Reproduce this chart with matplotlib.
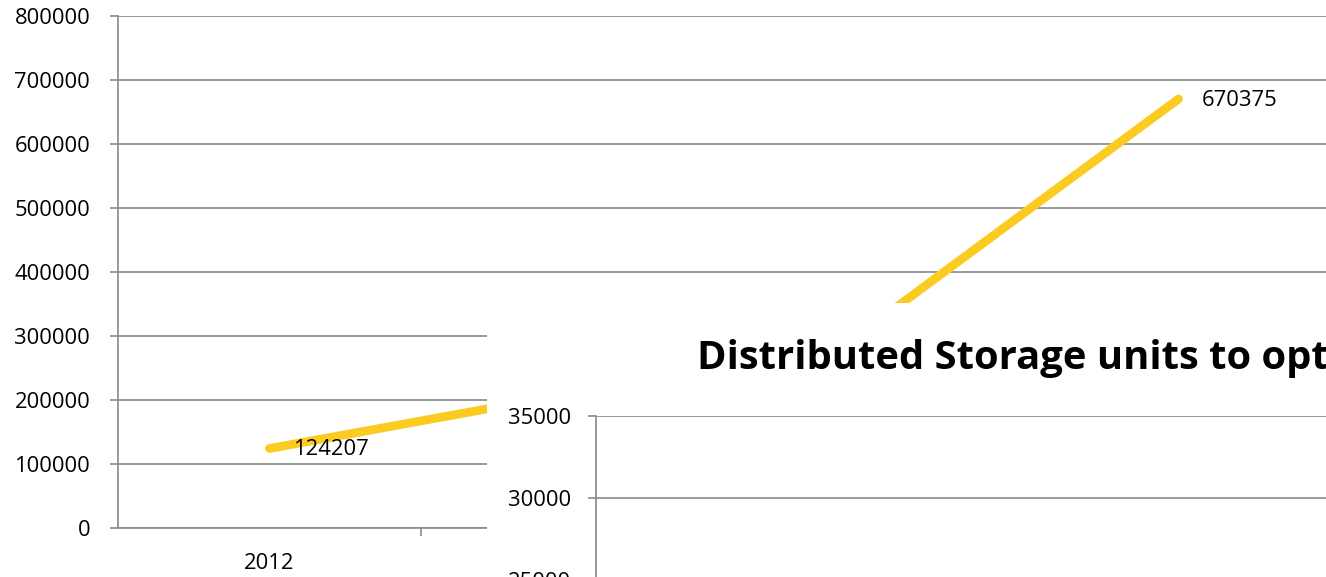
import matplotlib
matplotlib.use("Agg")
import matplotlib.pyplot as plt
from matplotlib.patches import Rectangle

# ---- data ----
years = ["2012", "2013", "2014", "2015"]
values = [124207, 210500, 321000, 670375]
labelled = {0: "124207", 3: "670375"}
main_yticks = [0, 100000, 200000, 300000, 400000, 500000, 600000, 700000, 800000]
inset_yticks = [0, 5000, 10000, 15000, 20000, 25000, 30000, 35000]
inset_title = "Distributed Storage units to optimize"

W, H = 1326, 577
plt.rcParams['font.family'] = ['Open Sans', 'DejaVu Sans']
fig = plt.figure(figsize=(W / 100, H / 100), dpi=100)
GRID = '#898989'
LINE = '#FBCB22'
FS = 15.8

def fx(px):
    return px / W

def fy(py):
    return (H - py) / H

# ---- main (background) chart ----
left, right, top, bottom = 118, 118 + 303 * 4, 16, 528
ax = fig.add_axes([fx(left), fy(bottom), fx(right - left), (bottom - top) / H], zorder=0)
x = list(range(len(years)))
ax.plot(x, values, color=LINE, lw=6.3, solid_capstyle='round', zorder=3)
for i, t in labelled.items():
    ax.annotate(t, (x[i], values[i]), xytext=(17, -1), textcoords='offset points',
                ha='left', va='center', fontsize=FS, color='black')
ax.set_xlim(-0.5, len(years) - 0.5)
ax.set_ylim(0, 800000)
ax.set_yticks(main_yticks)
ax.set_yticklabels([str(v) for v in main_yticks])
ax.set_xticks(x)
ax.set_xticklabels(years)
ax.set_xticks([i + 0.5 for i in x], minor=True)
ax.tick_params(axis='x', which='major', length=0, pad=18, labelsize=FS)
ax.tick_params(axis='x', which='minor', length=6, color=GRID, width=1.2, direction='out')
ax.tick_params(axis='y', length=6, color=GRID, width=1.2, pad=14, labelsize=FS)
ax.yaxis.grid(True, color=GRID, lw=1.2)
ax.set_axisbelow(True)
for s in ['top', 'right']:
    ax.spines[s].set_visible(False)
ax.spines['left'].set_color(GRID)
ax.spines['left'].set_linewidth(1.2)
ax.spines['bottom'].set_color(GRID)
ax.spines['bottom'].set_linewidth(1.2)

# ---- overlay panel ----
fig.patches.append(Rectangle((fx(487), 0), 1.0, fy(303), transform=fig.transFigure,
                             facecolor='white', edgecolor='none', zorder=1))
fig.text(fx(697), fy(358), inset_title, fontsize=28.8, fontweight='bold',
         ha='left', va='center', zorder=3)

in_left, in_top = 596, 416
px_per = 82 / 5000
in_bottom = in_top + px_per * 35000
ax2 = fig.add_axes([fx(in_left), fy(in_bottom), fx(W + 200 - in_left), (in_bottom - in_top) / H], zorder=2)
ax2.set_facecolor('none')
ax2.set_ylim(0, 35000)
ax2.set_yticks(inset_yticks)
ax2.set_yticklabels([str(v) for v in inset_yticks])
ax2.set_xticks([])
ax2.tick_params(axis='y', length=6, color=GRID, width=1.2, pad=12, labelsize=FS)
ax2.yaxis.grid(True, color=GRID, lw=1.2)
for s in ['top', 'right', 'bottom']:
    ax2.spines[s].set_visible(False)
ax2.spines['left'].set_color(GRID)
ax2.spines['left'].set_linewidth(1.2)

fig.savefig('out.png', dpi=100)
